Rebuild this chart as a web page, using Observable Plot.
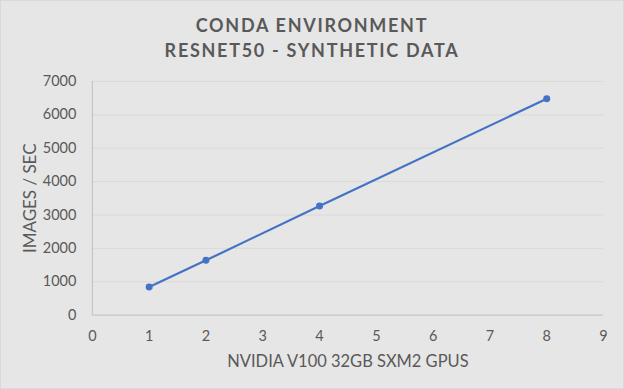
<!DOCTYPE html>
<html>
<head>
<meta charset="utf-8">
<script src="https://cdn.jsdelivr.net/npm/d3@7"></script>
<script src="https://cdn.jsdelivr.net/npm/@observablehq/plot@0.6"></script>
<style>
  html, body { margin: 0; padding: 0; }
  body { width: 624px; height: 389px; overflow: hidden; }
  #chart { position: relative; width: 622px; height: 387px; background: #e6e6e6; border: 1px solid #d9d9d9; font-family: Lato, "Open Sans", sans-serif; color: #595959; }
  #title { position: absolute; top: 12px; left: 0; width: 622px; text-align: center; font-weight: bold; font-size: 18px; letter-spacing: 1.7px; line-height: 25px; color: #595959; }
  #plot { position: absolute; top: 63px; left: -1px; }
</style>
</head>
<body>
<div id="chart">
  <div id="title">CONDA ENVIRONMENT<br>RESNET50 - SYNTHETIC DATA</div>
  <div id="plot"></div>
</div>
<script>
const gpus = [1, 2, 4, 8];
const imagesPerSec = [845, 1640, 3270, 6480];
const xTicks = [0, 1, 2, 3, 4, 5, 6, 7, 8, 9];
const yTicks = [0, 1000, 2000, 3000, 4000, 5000, 6000, 7000];
const xLabel = "NVIDIA V100 32GB SXM2 GPUS";
const yLabel = "IMAGES / SEC";

const data = gpus.map((g, i) => ({gpus: g, ips: imagesPerSec[i]}));
const textColor = "#595959";

const chart = Plot.plot({
  width: 624,
  height: 326,
  marginTop: 17,
  marginBottom: 75,
  marginLeft: 92,
  marginRight: 20,
  style: {background: "transparent", fontFamily: "Lato, 'Open Sans', sans-serif", color: textColor},
  x: {domain: [0, 9], ticks: xTicks},
  y: {domain: [0, 7000], ticks: yTicks},
  marks: [
    Plot.ruleY(yTicks.filter(d => d > 0), {stroke: "#d9d9d9", strokeWidth: 1}),
    Plot.ruleY([0], {stroke: "#bfbfbf", strokeWidth: 1}),
    Plot.ruleX([0], {stroke: "#bfbfbf", strokeWidth: 1}),
    Plot.axisX({ticks: xTicks, tickSize: 0, tickPadding: 16, fontSize: 14.5, label: null, color: textColor, tickFormat: d => String(d)}),
    Plot.axisY({ticks: yTicks, tickSize: 0, tickPadding: 16, fontSize: 14.5, label: null, color: textColor, tickFormat: d => String(d)}),
    Plot.line(data, {x: "gpus", y: "ips", stroke: "#4472c4", strokeWidth: 2.2}),
    Plot.dot(data, {x: "gpus", y: "ips", fill: "#4472c4", r: 3.5}),
    Plot.text([yLabel], {frameAnchor: "left", textAnchor: "middle", lineAnchor: "middle", rotate: -90, dx: -62, fontSize: 17, fill: textColor}),
    Plot.text([xLabel], {frameAnchor: "bottom", lineAnchor: "middle", dy: 47, fontSize: 16.5, fill: textColor})
  ]
});
document.getElementById("plot").appendChild(chart);
</script>
</body>
</html>
